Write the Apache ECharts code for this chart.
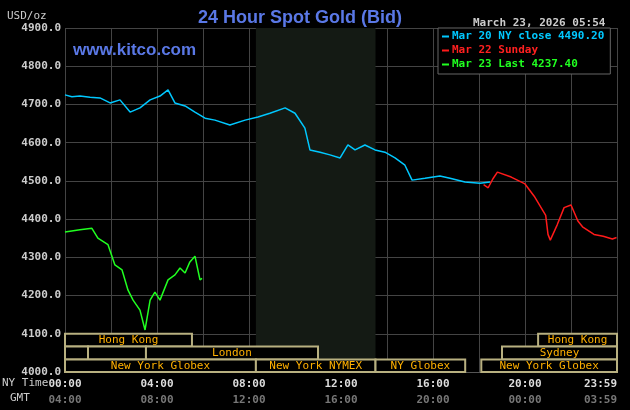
<!DOCTYPE html><html><head><meta charset="utf-8">
<script src="https://cdn.jsdelivr.net/npm/echarts@6/dist/echarts.min.js"></script>
<style>body{margin:0;background:#000}#c{width:630px;height:410px}</style></head><body><div id="c"></div>
<script>
const blueData=[[0,4725],[0.3,4720],[0.65,4722],[1.09,4719],[1.52,4717],[1.96,4704],[2.39,4712],[2.83,4680],[3.26,4691],[3.7,4712],[4.13,4722],[4.48,4738],[4.78,4704],[5.22,4696],[5.65,4680],[6.09,4664],[6.52,4659],[7.17,4646],[7.83,4659],[8.39,4667],[8.91,4677],[9.57,4691],[10.0,4677],[10.43,4638],[10.65,4581],[11.09,4575],[11.52,4568],[11.96,4560],[12.3,4594],[12.61,4581],[13.04,4594],[13.48,4581],[13.91,4575],[14.35,4560],[14.78,4541],[15.09,4502],[15.65,4507],[16.3,4513],[16.74,4507],[17.39,4497],[18.04,4494],[18.48,4497]];
const redData=[[18.2,4490],[18.4,4482],[18.6,4505],[18.8,4523],[19.4,4510],[20.0,4492],[20.4,4460],[20.9,4410],[21.0,4360],[21.1,4345],[21.4,4385],[21.7,4430],[22.0,4437],[22.3,4395],[22.5,4380],[23.0,4360],[23.4,4355],[23.8,4348],[23.98,4352]];
const greenData=[[0,4366],[0.65,4372],[1.17,4376],[1.43,4350],[1.87,4333],[2.17,4280],[2.48,4267],[2.74,4214],[2.96,4188],[3.26,4162],[3.48,4110],[3.7,4188],[3.91,4209],[4.13,4188],[4.48,4241],[4.78,4254],[5.0,4272],[5.22,4259],[5.43,4288],[5.65,4303],[5.87,4241],[5.96,4245]];
const nyTicks={0:'00:00',4:'04:00',8:'08:00',12:'12:00',16:'16:00',20:'20:00',24:'23:59'};
const gmtTicks={0:'04:00',4:'08:00',8:'12:00',12:'16:00',16:'20:00',20:'00:00',24:'03:59'};
const sessions=[
 ['Hong Kong',0,5.52,4067,4100],['Hong Kong',20.57,24,4067,4100],
 ['',0,1,4033,4067],['',1,3.52,4033,4067],['London',3.52,11,4033,4067],['Sydney',19,24,4033,4067],
 ['New York Globex',0,8.3,4000,4033],['New York NYMEX',8.3,13.5,4000,4033],['NY Globex',13.5,17.4,4000,4033],['New York Globex',18.1,24,4000,4033]];
const mono='DejaVu Sans Mono';
const chart=echarts.init(document.getElementById('c'));
chart.setOption({backgroundColor:'#000',animation:false,
 title:[{text:'24 Hour Spot Gold (Bid)',left:295,top:4,textAlign:'center',textStyle:{color:'#5a78e6',fontSize:18,fontWeight:'bold',fontFamily:'Liberation Sans'}},
  {text:'www.kitco.com',left:68,top:37,textStyle:{color:'#5a78e6',fontSize:17,fontWeight:'bold',fontFamily:'Liberation Sans'}},
  {text:'USD/oz',left:2,top:6,textStyle:{color:'#ccc',fontSize:11,fontWeight:'normal',fontFamily:mono}},
  {text:'March 23, 2026 05:54',left:468,top:13,textStyle:{color:'#ccc',fontSize:11,fontWeight:'bold',fontFamily:mono}}],
 legend:{left:438,top:28,orient:'vertical',itemWidth:7,itemHeight:2,itemGap:3,padding:[3,6,4,4],borderColor:'#666',borderWidth:1,backgroundColor:'#000',
  textStyle:{fontFamily:mono,fontSize:11,fontWeight:'bold',padding:[0,0,0,-2]},icon:'rect',
  data:[{name:'Mar 20 NY close 4490.20',textStyle:{color:'#00c8ff'}},{name:'Mar 22 Sunday',textStyle:{color:'#ff2020'}},{name:'Mar 23 Last 4237.40',textStyle:{color:'#20ff20'}}]},
 grid:{left:65,right:13,top:28,bottom:38,outerBoundsMode:'none',containLabel:false},
 xAxis:{type:'value',min:0,max:24,interval:2,axisLine:{lineStyle:{color:'#555'}},axisTick:{show:false},
  splitLine:{lineStyle:{color:'#444'}},
  axisLabel:{interval:0,margin:4,alignMaxLabel:'right',formatter:v=>nyTicks[v]!==undefined?'{a|'+nyTicks[v]+'}\n{b|'+gmtTicks[v]+'}':'',
   rich:{a:{color:'#ddd',fontFamily:mono,fontSize:11,fontWeight:'bold',lineHeight:16},b:{color:'#777',fontFamily:mono,fontSize:11,fontWeight:'bold',lineHeight:16}}}},
 yAxis:{type:'value',min:4000,max:4900,interval:100,axisLine:{show:false},axisTick:{show:false},
  splitLine:{lineStyle:{color:'#444'}},axisLabel:{color:'#ccc',fontFamily:mono,fontWeight:'bold',fontSize:11,margin:4,formatter:v=>v.toFixed(1)}},
 graphic:[{type:'text',left:2,top:378,style:{text:'NY Time',fill:'#ccc',font:'11px "DejaVu Sans Mono"'}},{type:'text',left:10,top:393,style:{text:'GMT',fill:'#ccc',font:'11px "DejaVu Sans Mono"'}}],
 series:[
  {name:'sessions',type:'line',data:[],silent:true,
   markArea:{silent:true,itemStyle:{color:'rgba(0,0,0,0)'},data:[[{xAxis:8.3,yAxis:4000,itemStyle:{color:'#141a14'}},{xAxis:13.5,yAxis:4900}]].concat(
    sessions.map(s=>[{xAxis:s[1],yAxis:s[3],name:s[0],itemStyle:{color:'#000',borderColor:'#b8b080',borderWidth:2},label:{show:true,position:'inside',color:'#ffb000',fontFamily:mono,fontSize:11,formatter:'{b}'}},{xAxis:s[2],yAxis:s[4]}]))}},
  {name:'Mar 20 NY close 4490.20',type:'line',data:blueData,showSymbol:false,lineStyle:{color:'#00c8ff',width:1.5},itemStyle:{color:'#00c8ff'},z:3},
  {name:'Mar 22 Sunday',type:'line',data:redData,showSymbol:false,lineStyle:{color:'#ff1a1a',width:1.5},itemStyle:{color:'#ff1a1a'},z:3},
  {name:'Mar 23 Last 4237.40',type:'line',data:greenData,showSymbol:false,lineStyle:{color:'#20ff20',width:1.5},itemStyle:{color:'#20ff20'},z:3}]
});
</script></body></html>
